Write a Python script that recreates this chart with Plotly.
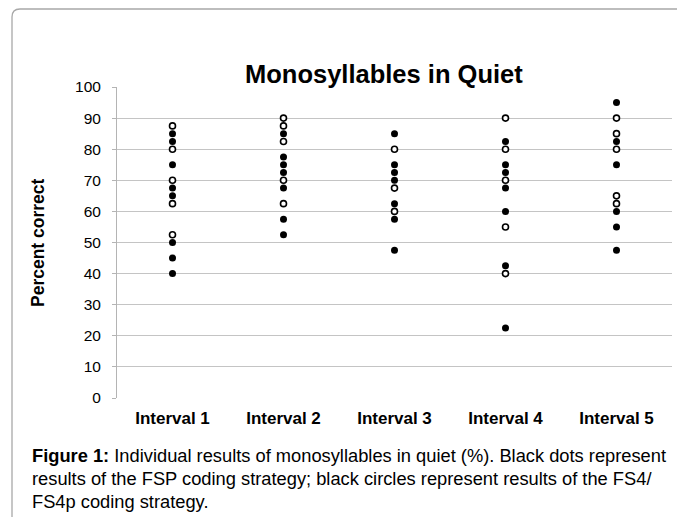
import plotly.graph_objects as go

categories = ["Interval 1", "Interval 2", "Interval 3", "Interval 4", "Interval 5"]

# FSP coding strategy (black dots)
fsp_values = [
    [85, 82.5, 75, 67.5, 65, 50, 45, 40],
    [85, 77.5, 75, 72.5, 67.5, 57.5, 52.5],
    [85, 75, 72.5, 70, 62.5, 57.5, 47.5],
    [82.5, 75, 72.5, 67.5, 60, 42.5, 22.5],
    [95, 82.5, 75, 60, 55, 47.5],
]
# FS4/FS4p coding strategy (black circles)
fs4_values = [
    [87.5, 80, 70, 62.5, 52.5],
    [90, 87.5, 82.5, 70, 62.5],
    [80, 67.5, 60],
    [90, 80, 70, 55, 40],
    [90, 85, 80, 65, 62.5],
]
y_ticks = list(range(0, 101, 10))

W, H = 677, 517
L, R, T, B = 117, 5, 87, 119
pw = W - L - R
ph = H - T - B

def px(x):
    return (x - L) / pw

def py(y):
    return (H - B - y) / ph

fx, fy = [], []
for c, vals in zip(categories, fsp_values):
    fx += [c] * len(vals)
    fy += vals
ox, oy = [], []
for c, vals in zip(categories, fs4_values):
    ox += [c] * len(vals)
    oy += vals

fig = go.Figure()
fig.add_trace(go.Scatter(x=fx, y=fy, mode="markers", name="FSP",
                         marker=dict(symbol="circle", size=7, color="black")))
fig.add_trace(go.Scatter(x=ox, y=oy, mode="markers", name="FS4/FS4p",
                         marker=dict(symbol="circle", size=6, color="white",
                                     line=dict(color="black", width=1.6))))

font = "Liberation Sans, Arial, sans-serif"

# frame with rounded top-left corner
r = 8
path = (f"M {px(12)},{py(540)} L {px(12)},{py(9 + r)} "
        f"Q {px(12)},{py(9)} {px(12 + r)},{py(9)} L {px(700)},{py(9)}")
shapes = [dict(type="path", xref="paper", yref="paper", path=path,
               line=dict(color="#a8a8a8", width=1.3))]

cap_font = dict(size=18.3, color="black", family=font)
annotations = [
    dict(text="<b>Monosyllables in Quiet</b>", x=px(384), y=py(74), xref="paper", yref="paper",
         showarrow=False, font=dict(size=25.5, color="black", family=font),
         xanchor="center", yanchor="middle"),
    dict(text="<b>Percent correct</b>", x=px(38), y=py(243), xref="paper", yref="paper",
         showarrow=False, textangle=-90, font=dict(size=17.5, color="black", family=font),
         xanchor="center", yanchor="middle"),
    dict(text="<b>Figure 1:</b> Individual results of monosyllables in quiet (%). Black dots represent",
         x=px(30), y=py(455), xref="paper", yref="paper", showarrow=False,
         font=cap_font, xanchor="left", yanchor="middle"),
    dict(text="results of the FSP coding strategy; black circles represent results of the FS4/",
         x=px(30), y=py(478), xref="paper", yref="paper", showarrow=False,
         font=cap_font, xanchor="left", yanchor="middle"),
    dict(text="FS4p coding strategy.",
         x=px(30), y=py(501), xref="paper", yref="paper", showarrow=False,
         font=cap_font, xanchor="left", yanchor="middle"),
]

fig.update_layout(
    width=W, height=H,
    margin=dict(l=L, r=R, t=T, b=B),
    paper_bgcolor="white", plot_bgcolor="white",
    showlegend=False,
    shapes=shapes,
    annotations=annotations,
    font=dict(family=font, color="black"),
)
fig.update_xaxes(type="category", categoryorder="array", categoryarray=categories,
                 range=[-0.5, 4.5], showgrid=False, showline=False, zeroline=False,
                 ticks="", ticklabelstandoff=8,
                 tickfont=dict(size=17, family=font, color="black"),
                 tickprefix="<b>", ticksuffix="</b>")
fig.update_yaxes(range=[0, 100], tickvals=y_ticks, showgrid=True, gridcolor="#c4c4c4",
                 gridwidth=1, showline=True, linecolor="#b4b4b4", linewidth=1,
                 ticks="outside", ticklen=4, tickcolor="#b4b4b4", zeroline=False,
                 ticklabelstandoff=8,
                 tickfont=dict(size=15.5, family=font, color="black"))

fig.write_html("out.html", config={"displayModeBar": False},
               post_script="document.body.style.margin='0';")
